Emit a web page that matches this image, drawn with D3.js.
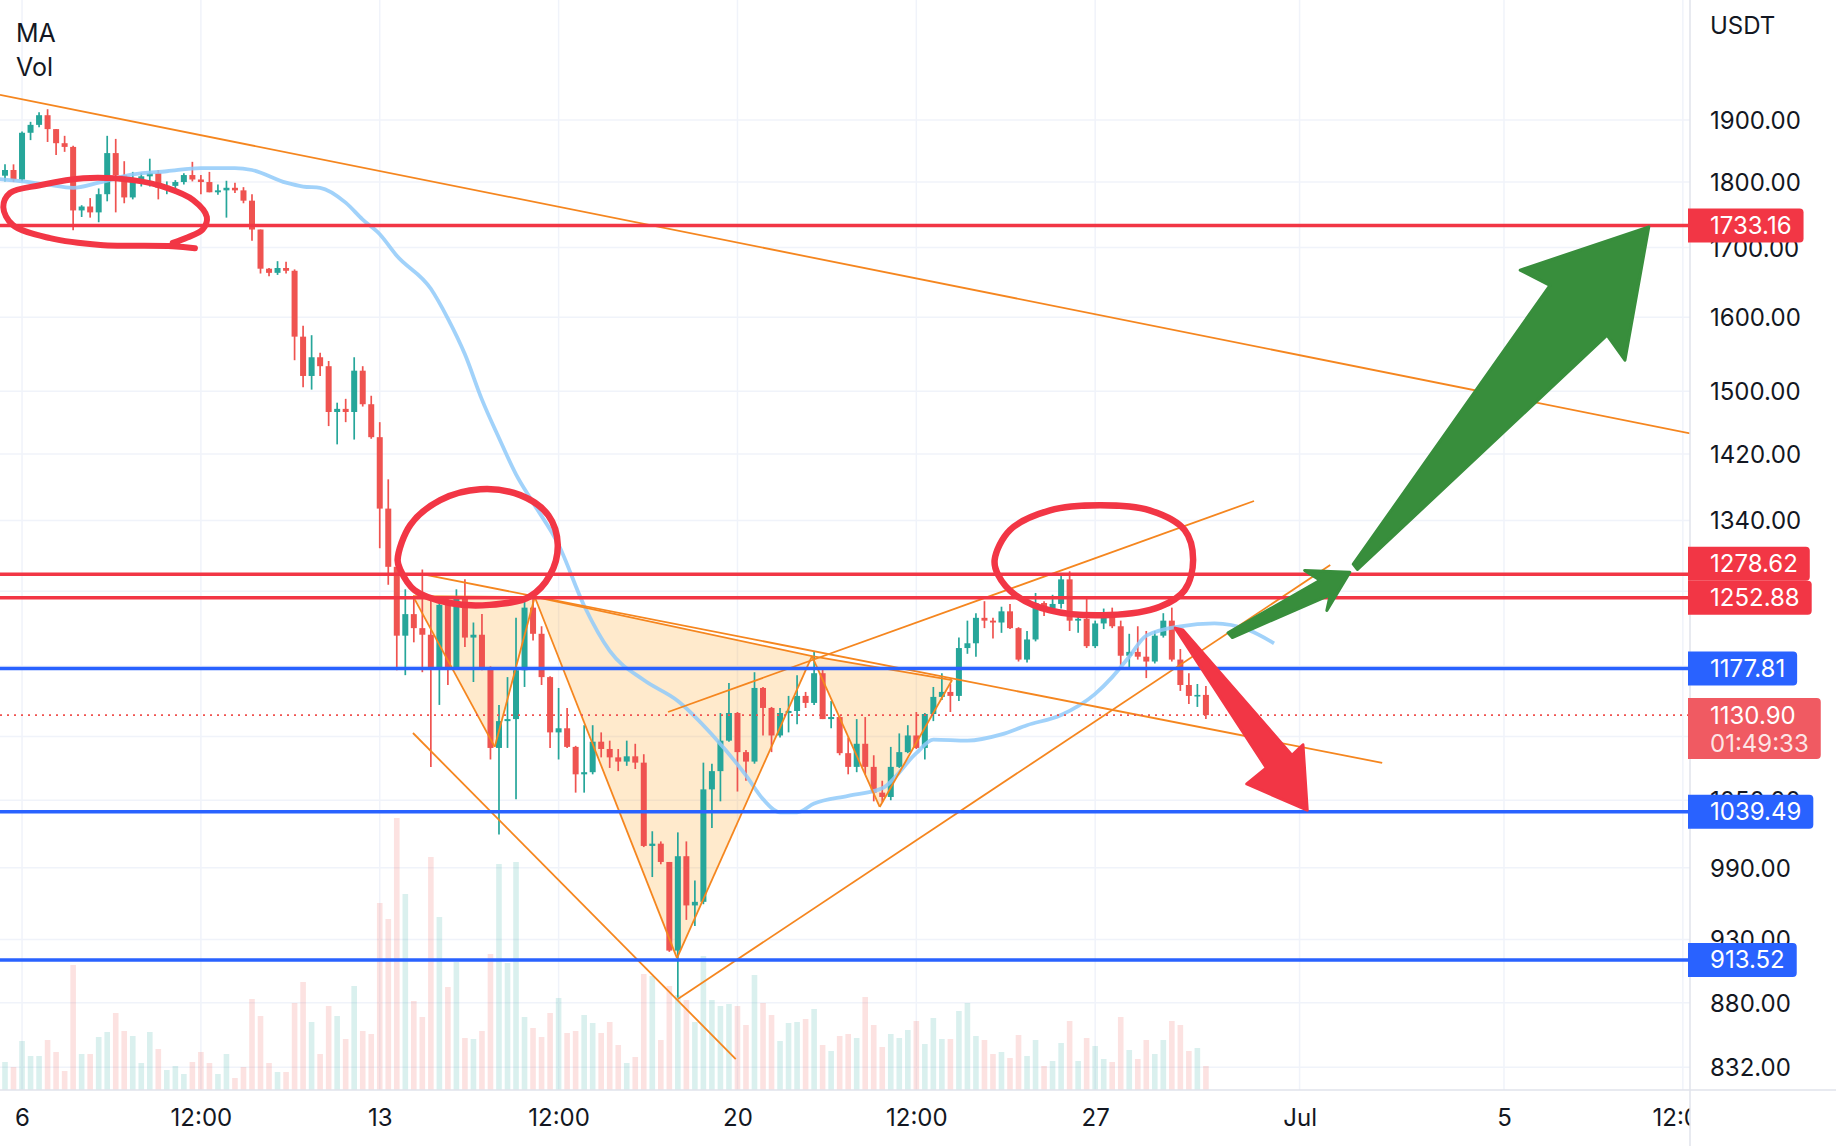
<!DOCTYPE html>
<html><head><meta charset="utf-8">
<script src="https://cdn.jsdelivr.net/npm/d3@7"></script>
<style>
html,body{margin:0;padding:0;background:#fff;}
svg{display:block;font-family:Inter,"Noto Sans",sans-serif;}
</style></head><body>
<svg id="chart" width="1836" height="1146"></svg>
<script>
// ---------------- DATA ----------------
const startTime = Date.UTC(2022,5,5,16);   // first 4h bar
const barHours = 4;
const open = [1810,1819,1804,1879,1892,1908,1885,1862,1856,1756,1762,1753,1781,1846,1811,1776,1804,1809,1814,1791,
1794,1800,1811,1804,1800,1784,1787,1791,1787,1771,1727,1669,1663,1670,1666,1573,1520,1545,1533,1473,
1477,1473,1527,1483,1441,1354,1287,1212,1235,1220,1213,1179,1245,1179,1254,1210,1213,1178,1099,1125,
1127,1176,1242,1214,1169,1114,1118,1100,1074,1076,1105,1098,1090,1086,1091,1085,1009,1011,995,921,
1000,958,961,1060,1077,1106,1133,1095,1086,1158,1138,1111,1133,1135,1150,1143,1173,1127,1129,1094,
1081,1103,1081,1057,1053,1081,1095,1111,1099,1132,1149,1154,1150,1199,1204,1231,1228,1226,1238,1220,
1187,1208,1247,1241,1246,1273,1228,1230,1201,1225,1233,1222,1191,1195,1190,1185,1212,1228,1187,1161,1150,1151];
const high = [1828,1828,1881,1897,1913,1918,1885,1874,1858,1764,1775,1790,1874,1869,1833,1816,1814,1837,1819,1801,
1803,1814,1832,1811,1816,1796,1802,1799,1792,1781,1727,1670,1680,1679,1668,1588,1575,1551,1540,1485,
1490,1545,1533,1494,1460,1389,1290,1262,1254,1284,1251,1254,1254,1262,1273,1226,1235,1180,1141,1169,
1231,1252,1252,1222,1170,1158,1138,1101,1121,1121,1114,1106,1098,1106,1103,1093,1022,1013,995,1021,
1013,979,1085,1084,1133,1163,1134,1097,1174,1159,1139,1138,1150,1171,1154,1196,1177,1145,1130,1109,
1127,1129,1092,1068,1100,1113,1121,1134,1133,1159,1173,1162,1210,1228,1236,1249,1231,1243,1246,1221,
1217,1258,1249,1256,1280,1282,1236,1252,1228,1241,1242,1228,1214,1222,1217,1217,1236,1242,1198,1173,1162,1160];
const low = [1801,1800,1801,1867,1888,1864,1843,1848,1726,1746,1745,1738,1770,1753,1767,1773,1793,1793,1773,1781,
1782,1796,1801,1781,1784,1780,1745,1783,1767,1710,1662,1658,1660,1662,1541,1505,1502,1520,1455,1432,
1460,1438,1480,1439,1308,1267,1176,1171,1205,1174,1081,1141,1161,1178,1200,1164,1176,1088,1019,1099,
1051,1159,1207,1161,1099,1088,1099,1057,1057,1074,1090,1080,1077,1082,1079,1008,982,993,920,884,
946,941,959,1025,1049,1105,1058,1068,1084,1111,1095,1109,1114,1122,1138,1141,1127,1118,1092,1074,
1076,1074,1049,1048,1050,1080,1094,1098,1088,1125,1146,1134,1145,1193,1190,1220,1209,1215,1219,1185,
1184,1206,1233,1239,1241,1217,1215,1199,1199,1219,1220,1181,1178,1187,1168,1183,1210,1185,1155,1142,1139,1127];
const close = [1819,1804,1879,1892,1908,1885,1862,1856,1756,1762,1753,1781,1846,1811,1776,1804,1809,1814,1791,1794,
1800,1811,1804,1800,1784,1787,1791,1787,1771,1727,1669,1663,1670,1666,1573,1520,1545,1533,1473,1477,
1473,1527,1483,1441,1354,1287,1212,1235,1220,1213,1179,1245,1179,1254,1210,1213,1178,1099,1125,1127,
1176,1242,1214,1169,1114,1118,1100,1074,1076,1105,1098,1090,1086,1091,1085,1009,1011,995,921,1000,
958,961,1060,1077,1106,1133,1095,1086,1158,1138,1111,1133,1135,1150,1143,1173,1127,1129,1094,1081,
1103,1081,1057,1053,1081,1095,1111,1099,1132,1149,1154,1150,1199,1204,1231,1228,1226,1238,1220,1187,
1208,1247,1241,1246,1273,1228,1230,1201,1225,1233,1222,1191,1195,1190,1185,1212,1228,1187,1161,1150,1151,1130.90];
const volume = [28,23,49,34,34,50,38,19,125,36,36,53,58,77,59,54,27,58,41,20,
24,16,28,38,27,16,36,12,23,91,74,27,18,18,87,108,68,36,84,74,
51,104,59,56,187,171,272,196,89,73,233,173,103,128,52,51,59,136,226,127,
228,73,62,53,77,92,57,59,75,67,57,68,45,27,33,116,114,50,104,95,
90,68,134,90,84,86,84,65,115,87,75,49,67,68,71,81,45,39,54,56,
52,93,65,43,56,52,60,69,46,72,51,51,79,87,54,50,36,38,32,55,
34,50,24,29,47,69,29,52,44,31,28,73,40,31,50,36,50,69,65,39,42,24];

// moving average (bar index, value)
const maIdx = [-1,2,5,8,11,15,19,23,27,29,33,35,37,40,42,44,46,50,52,54,56,58,60,62,65,68,71,75,79,83,87,89,91,93,95,99,103,107,109,113,117,120,124,128,130,132,134,138,142,146,149];
const maVal = [1805,1801,1796,1791,1799,1812,1817,1822,1822,1819,1799,1793,1791,1768,1742,1720,1688,1640,1598,1549,1489,1440,1395,1361,1312,1244,1196,1166,1145,1112,1073,1051,1039,1039,1047,1054,1061,1094,1107,1106,1112,1121,1131,1152,1169,1190,1212,1222,1225,1218,1204];

// axes
const gridPrices = [1900,1800,1700,1600,1500,1420,1340,1260,1180,1110,1050,990,930,880,832];
const priceTickLabels = [1900,1800,1700,1600,1500,1420,1340,1050,990,930,880,832]; // others sit under level labels
const timeTicks = ["2022-06-06T00:00Z","2022-06-09T12:00Z","2022-06-13T00:00Z","2022-06-16T12:00Z","2022-06-20T00:00Z","2022-06-23T12:00Z","2022-06-27T00:00Z","2022-07-01T00:00Z","2022-07-05T00:00Z","2022-07-08T12:00Z"];
const timeLabels = ["6","12:00","13","12:00","20","12:00","27","Jul","5","12:00"];

// horizontal levels
const levelValues = [1733.16,1278.62,1252.88,1177.81,1039.49,913.52];
const levelKinds  = ["res","res","res","sup","sup","sup"];
const lastPrice = 1130.90;
const countdown = "01:49:33";

// drawings: [barIndex, price]
const patternPts = [[47.9,1254.5],[57.5,1100],[62.2,1253.6],[78.9,915],[94.75,1190.7],[102.7,1043.9],[111.2,1166]];
const trendRay   = [[-0.59,1942],[46.38,1811]];
const trendDesc  = [[48.84,1279],[161.7,1084.7]];
const riseTop    = [[77.85,1134],[146.65,1363]];
const riseBottom = [[79.0,883],[155.6,1289]];
const descLeft   = [[47.9,1113.4],[85.8,837.9]];
const ellipseTop = [[22.3,1699],[19.7,1702],[11.2,1704],[5.3,1714],[0.9,1734],[-0.2,1761],[0.6,1783],[4.1,1795],[9.2,1806],[15.0,1803],[19.0,1791],[22.1,1772],[23.7,1746],[23.2,1727],[21.4,1715],[19.7,1707]];
const ellipseMid = [[46.1,1295],[47.6,1335],[51.1,1364],[55.8,1377],[60.5,1370],[63.8,1346],[64.9,1312],[64.0,1278],[61.6,1254],[56.9,1245],[52.2,1247],[48.1,1261],[46.4,1284]];
const ellipseRight = [[116.2,1295],[118.0,1329],[122.7,1352],[128.6,1358],[134.4,1352],[138.5,1329],[139.5,1295],[138.5,1261],[135.6,1243],[129.7,1234],[122.7,1239],[118.6,1256],[116.6,1278]];
const arrowGreenBig = [[158.3,1290],[181.4,1645],[177.9,1667],[193.0,1731],[190.2,1541],[188.1,1575],[158.8,1284]];
const arrowGreenSmall = [[143.6,1215],[154.4,1272],[152.6,1283],[157.9,1281],[155.2,1239],[155.6,1256],[144.1,1210]];
const arrowRed = [[137.4,1220],[148.1,1080],[145.8,1065],[152.9,1041],[152.4,1102],[151.1,1092],[138.3,1218]];

// ---------------- LAYOUT / STYLE ----------------
const W=1836,H=1146,plotR=1690,plotB=1090;
const UP="#26A69A",DOWN="#EF5350",RED="#F23645",BLUE="#2962FF",ORANGE="#F5861F",GREEN="#388E3C";
const barMs = barHours*3600*1000;
const tOf = i => new Date(startTime + i*barMs);

const x = d3.scaleUtc().domain([tOf(0),tOf(141)]).range([5,5+141*8.517]);
const y = d3.scaleLog().domain([815.6,2109.6]).range([plotB,0]);
const yv = d3.scaleLinear().domain([0,300]).range([plotB,plotB-300]);
const xi = i => x(tOf(i));
const pt = d => [xi(d[0]), y(d[1])];

const svg = d3.select("#chart");
const defs = svg.append("defs");
defs.append("clipPath").attr("id","plotClip").append("rect").attr("x",0).attr("y",0).attr("width",plotR).attr("height",plotB);
defs.append("clipPath").attr("id","timeClip").append("rect").attr("x",0).attr("y",0).attr("width",plotR).attr("height",H-plotB);
svg.append("rect").attr("width",W).attr("height",H).attr("fill","#fff");

const plot = svg.append("g").attr("clip-path","url(#plotClip)");
// grid
const grid = plot.append("g");
timeTicks.forEach(s=>{const d=new Date(s);grid.append("line").attr("x1",x(d)).attr("x2",x(d)).attr("y1",0).attr("y2",plotB).attr("stroke","#F0F3FA").attr("stroke-width",1.5);});
gridPrices.forEach(p=>grid.append("line").attr("x1",0).attr("x2",plotR).attr("y1",y(p)).attr("y2",y(p)).attr("stroke","#F0F3FA").attr("stroke-width",1.5));

const bars = d3.range(open.length).map(i=>({i,t:tOf(i),o:open[i],h:high[i],l:low[i],c:close[i],v:volume[i]}));
// volume
plot.append("g").selectAll("rect").data(bars).join("rect")
  .attr("x",d=>x(d.t)-2.8).attr("width",5.6)
  .attr("y",d=>yv(d.v)).attr("height",d=>plotB-yv(d.v))
  .attr("fill",d=>d.c>=d.o?"rgba(38,166,154,0.17)":"rgba(239,83,80,0.17)");

// pattern fills
const pp = patternPts.map(pt);
const tri = [[0,1,2],[2,3,4],[4,5,6]];
const fillG = plot.append("g");
tri.forEach(t=>fillG.append("path").attr("d","M"+t.map(k=>pp[k].join(",")).join("L")+"Z").attr("fill","rgba(255,152,0,0.2)"));

// candles
const cg = plot.append("g");
cg.selectAll("line").data(bars).join("line")
  .attr("x1",d=>x(d.t)).attr("x2",d=>x(d.t)).attr("y1",d=>y(d.h)).attr("y2",d=>y(d.l))
  .attr("stroke",d=>d.c>=d.o?UP:DOWN).attr("stroke-width",1.7);
cg.selectAll("rect").data(bars).join("rect")
  .attr("x",d=>x(d.t)-3).attr("width",6)
  .attr("y",d=>y(Math.max(d.o,d.c)))
  .attr("height",d=>Math.max(1.6,Math.abs(y(d.o)-y(d.c))))
  .attr("fill",d=>d.c>=d.o?UP:DOWN);

// MA
const maLine = d3.line().x(d=>xi(d[0])).y(d=>y(d[1])).curve(d3.curveMonotoneX);
plot.append("path").attr("d",maLine(maIdx.map((k,j)=>[k,maVal[j]])))
  .attr("fill","none").attr("stroke","rgba(144,202,249,0.85)").attr("stroke-width",3.8);

// pattern lines
const segs=[[0,1],[1,2],[0,2],[2,3],[3,4],[2,4],[4,5],[5,6],[4,6]];
const lg = plot.append("g").attr("stroke",ORANGE).attr("stroke-width",1.8).attr("fill","none");
segs.forEach(s=>lg.append("line").attr("x1",pp[s[0]][0]).attr("y1",pp[s[0]][1]).attr("x2",pp[s[1]][0]).attr("y2",pp[s[1]][1]));
[trendDesc,riseTop,riseBottom,descLeft].forEach(seg=>{const a=pt(seg[0]),b=pt(seg[1]);
  lg.append("line").attr("x1",a[0]).attr("y1",a[1]).attr("x2",b[0]).attr("y2",b[1]);});
{const a=pt(trendRay[0]),b=pt(trendRay[1]);const k=(b[1]-a[1])/(b[0]-a[0]);
 lg.append("line").attr("x1",a[0]).attr("y1",a[1]).attr("x2",plotR).attr("y2",a[1]+k*(plotR-a[0]));}

// horizontal levels
levelValues.forEach((v,j)=>plot.append("line").attr("x1",0).attr("x2",plotR).attr("y1",y(v)).attr("y2",y(v))
  .attr("stroke",levelKinds[j]==="res"?RED:BLUE).attr("stroke-width",3.5));
plot.append("line").attr("x1",0).attr("x2",plotR).attr("y1",y(lastPrice)).attr("y2",y(lastPrice))
  .attr("stroke",DOWN).attr("stroke-width",1.6).attr("stroke-dasharray","2,5");

// hand-drawn ellipses
const brushOpen = d3.line().x(d=>xi(d[0])).y(d=>y(d[1])).curve(d3.curveCatmullRom.alpha(0.5));
const brushClosed = d3.line().x(d=>xi(d[0])).y(d=>y(d[1])).curve(d3.curveCatmullRomClosed.alpha(0.5));
plot.append("path").attr("d",brushOpen(ellipseTop)).attr("fill","none").attr("stroke",RED).attr("stroke-width",6).attr("stroke-linecap","round").attr("stroke-linejoin","round");
[ellipseMid,ellipseRight].forEach(e=>plot.append("path").attr("d",brushClosed(e)).attr("fill","none").attr("stroke",RED).attr("stroke-width",6.5).attr("stroke-linecap","round"));

// arrows
const poly = pts => "M"+pts.map(p=>pt(p).join(",")).join("L")+"Z";
[[arrowGreenBig,GREEN],[arrowGreenSmall,GREEN],[arrowRed,RED]].forEach(a=>
  plot.append("path").attr("d",poly(a[0])).attr("fill",a[1]).attr("stroke",a[1]).attr("stroke-width",3).attr("stroke-linejoin","round"));

// ---------------- AXES ----------------
svg.append("rect").attr("x",plotR).attr("y",0).attr("width",W-plotR).attr("height",H).attr("fill","#fff");
svg.append("rect").attr("x",0).attr("y",plotB).attr("width",plotR).attr("height",H-plotB).attr("fill","#fff");

const yAxis = svg.append("g").attr("transform",`translate(${plotR},0)`)
  .call(d3.axisRight(y).tickValues(priceTickLabels).tickFormat(d3.format(".2f")).tickSize(0).tickPadding(20));
yAxis.select(".domain").remove();
yAxis.selectAll("text").attr("font-size",24).attr("fill","#131722").attr("font-family","Inter,'Noto Sans',sans-serif").attr("dy","0.35em");

const xAxis = svg.append("g").attr("transform",`translate(0,${plotB})`).attr("clip-path","url(#timeClip)")
  .call(d3.axisBottom(x).tickValues(timeTicks.map(s=>new Date(s))).tickFormat((d,i)=>timeLabels[i]).tickSize(0).tickPadding(0));
xAxis.select(".domain").remove();
xAxis.selectAll("text").attr("font-size",24).attr("fill","#131722").attr("font-family","Inter,'Noto Sans',sans-serif").attr("y",28).attr("dy","0.35em");

svg.append("line").attr("x1",plotR).attr("x2",plotR).attr("y1",0).attr("y2",H).attr("stroke","#E0E3EB").attr("stroke-width",1.5);
svg.append("line").attr("x1",0).attr("x2",W).attr("y1",plotB).attr("y2",plotB).attr("stroke","#E0E3EB").attr("stroke-width",1.5);

svg.append("text").attr("x",1710).attr("y",26).attr("dy","0.35em").attr("font-size",24).attr("fill","#131722").text("USDT");
svg.append("text").attr("x",16).attr("y",33).attr("dy","0.35em").attr("font-size",25).attr("fill","#131722").text("MA");
svg.append("text").attr("x",16).attr("y",67).attr("dy","0.35em").attr("font-size",25).attr("fill","#131722").text("Vol");

// price labels
const boxH = 34;
const labs = levelValues.map((v,j)=>({v,yc:y(v),col:levelKinds[j]==="res"?RED:BLUE})).sort((a,b)=>a.yc-b.yc);
for(let k=labs.length-2;k>=0;k--){ if(labs[k+1].yc-labs[k].yc<boxH) labs[k].yc=labs[k+1].yc-boxH; }
const lblG = svg.append("g");
function box(yTop,h,col,lines){
  const g=lblG.append("g");
  const r=g.append("path");
  let maxW=0;
  lines.forEach(L=>{const t=g.append("text").attr("x",1710).attr("y",L.yc).attr("dy","0.35em").attr("font-size",24).attr("fill",L.fill).text(L.s);
    maxW=Math.max(maxW,t.node().getComputedTextLength());});
  const x0=1688,x1=1710+maxW+12,rr=4;
  r.attr("d",`M${x0},${yTop}H${x1-rr}Q${x1},${yTop} ${x1},${yTop+rr}V${yTop+h-rr}Q${x1},${yTop+h} ${x1-rr},${yTop+h}H${x0}Z`).attr("fill",col);
}
labs.forEach(L=>box(L.yc-boxH/2,boxH,L.col,[{s:d3.format(".2f")(L.v),yc:L.yc,fill:"#fff"}]));
{const yc=y(lastPrice);
 box(yc-17,61,"#F05A62",[{s:d3.format(".2f")(lastPrice),yc:yc,fill:"#fff"},{s:countdown,yc:yc+28,fill:"rgba(255,255,255,0.85)"}]);}
</script>
</body></html>
